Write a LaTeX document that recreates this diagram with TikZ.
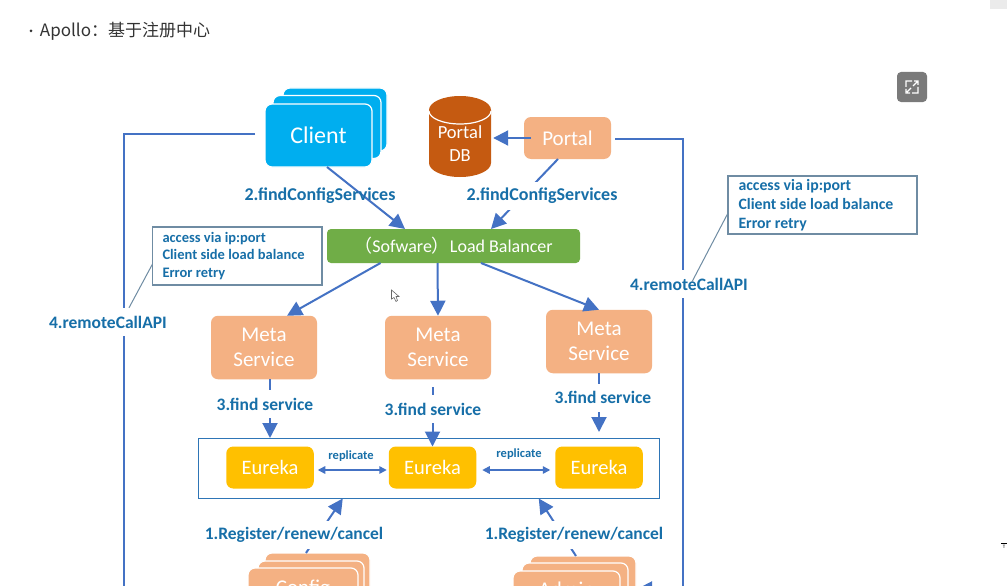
\documentclass[tikz,border=0pt]{standalone}
\usepackage{fontspec}
\setmainfont{Carlito}
\newfontfamily\cjk{Noto Sans CJK SC}
\usetikzlibrary{arrows.meta}
\definecolor{linkblue}{HTML}{4472C4}
\definecolor{labelblue}{HTML}{176FA8}
\definecolor{noteline}{HTML}{6F8CA3}
\definecolor{boxblue}{HTML}{2E75B6}
\definecolor{clientblue}{HTML}{00AEEF}
\definecolor{peach}{HTML}{F4B183}
\definecolor{lbgreen}{HTML}{70AD47}
\definecolor{eurekagold}{HTML}{FFC000}
\definecolor{dbbrown}{HTML}{C55A11}
\begin{document}
\begin{tikzpicture}[x=1pt, y=-1pt,
    box/.style={rounded corners=7pt, inner sep=0pt, outer sep=0pt, text=white,
        align=center, font=\fontsize{21}{25}\selectfont},
    metabox/.style={box, fill=peach, minimum width=106pt, minimum height=63.5pt},
    eurekabox/.style={box, fill=eurekagold, minimum width=87.5pt, minimum height=42pt,
        font=\fontsize{20.5}{25}\selectfont},
    stackbox/.style={box, draw=white, line width=1.2pt},
    flow/.style={draw=linkblue, line width=2pt, -{Triangle[width=15pt,length=15pt]}},
    small flow/.style={draw=linkblue, line width=1.5pt, {Triangle[width=7.5pt,length=7.5pt]}-{Triangle[width=7.5pt,length=7.5pt]}},
    link/.style={draw=linkblue, line width=2pt},
    steplabel/.style={text=labelblue, fill=white, inner sep=0pt, minimum height=28pt,
        font=\bfseries\fontsize{17.5}{19}\selectfont},
    replabel/.style={text=labelblue, inner sep=0pt, font=\bfseries\fontsize{12.5}{14}\selectfont},
    notebox/.style={draw=noteline, line width=1.5pt, fill=white, text=labelblue, align=flush left,
        inner ysep=0pt, outer sep=0pt, minimum height=58pt}
]
    \clip (0,0) rectangle (1007,586);
    \fill[white] (0,0) rectangle (1007,586);

    % heading
    \node[text=black!80, inner sep=0pt, font=\cjk\fontsize{17}{20}\selectfont] (heading) at (125,31) {Apollo：基于注册中心};
    \fill[black!80] (31,31) circle (1.5pt);

    % expand button
    \node[rounded corners=4pt, fill=black!52, minimum size=30pt, inner sep=0pt] (expand) at (912,87) {};
    \draw[white, line width=1.2pt] (906,87) -- (906,81) -- (912,81) (912,93) -- (918,93) -- (918,87)
        (907,92) -- (911,88) (917,82) -- (913,86) (914,81) -- (918,81) -- (918,85) (906,89) -- (906,93) -- (910,93);

    % client stack
    \node[stackbox, fill=clientblue, minimum width=104pt, minimum height=63pt] (clientc) at (335,119.5) {};
    \node[stackbox, fill=clientblue, minimum width=108pt, minimum height=63pt] (clientb) at (327,127) {};
    \node[stackbox, fill=clientblue, minimum width=107pt, minimum height=63pt,
        font=\fontsize{24}{26}\selectfont] (client) at (318.5,135.5) {Client};

    % portal
    \fill[dbbrown] (429,110) arc[start angle=180, end angle=0, x radius=31pt, y radius=14pt]
        -- (491,163) arc[start angle=0, end angle=-180, x radius=31pt, y radius=14pt] -- cycle;
    \draw[white, line width=1.2pt] (429,111) arc[start angle=180, end angle=360, x radius=31pt, y radius=13pt];
    \node[text=white, align=center, inner sep=0pt, minimum width=62pt, font=\fontsize{18.5}{23}\selectfont] (db) at (460,143.5) {Portal\\DB};
    \node[box, fill=peach, minimum width=87pt, minimum height=42pt] (portal) at (567.5,138) {Portal};

    % balancer
    \node[box, fill=lbgreen, rounded corners=4pt, minimum width=253pt, minimum height=34pt,
        font=\fontsize{18}{20}\selectfont] (lb) at (453.5,246) {{\cjk （}Sofware{\cjk ）}Load Balancer};

    % notes
    \node[notebox, minimum width=169.5pt, inner xsep=10pt, font=\bfseries\fontsize{14.5}{17.5}\selectfont, text width=149.5pt] (noteleft) at (237.25,256) {access via ip:port\\Client side load balance\\Error retry};
    \node[notebox, minimum width=189pt, inner xsep=10.5pt, font=\bfseries\fontsize{15.8}{19}\selectfont, text width=168pt] (noteright) at (822.5,205) {access via ip:port\\Client side load balance\\Error retry};

    % meta services
    \node[metabox] (meta1) at (264,347.5) {Meta\\Service};
    \node[metabox] (meta2) at (438,347.5) {Meta\\Service};
    \node[metabox] (meta3) at (599,341.5) {Meta\\Service};

    % eureka
    \node[draw=boxblue, line width=1pt, minimum width=460.5pt, minimum height=60.5pt, inner sep=0pt, outer sep=0pt] (cluster) at (428.75,468.25) {};
    \node[eurekabox] (eureka1) at (270,467.5) {Eureka};
    \node[eurekabox] (eureka2) at (432.5,467.5) {Eureka};
    \node[eurekabox] (eureka3) at (599,467.5) {Eureka};

    % config and admin stacks
    \node[stackbox, fill=peach, minimum width=105pt, minimum height=50pt] (configc) at (317.5,578) {};
    \node[stackbox, fill=peach, minimum width=106pt, minimum height=50pt] (configb) at (311,586) {};
    \node[stackbox, fill=peach, minimum width=110pt, minimum height=42pt] (config) at (303,589) {Config};
    \node[stackbox, fill=peach, minimum width=106pt, minimum height=50pt] (adminc) at (583,581) {};
    \node[stackbox, fill=peach, minimum width=106pt, minimum height=50pt] (adminb) at (575,588) {};
    \node[stackbox, fill=peach, minimum width=107pt, minimum height=36pt] (admin) at (566.5,589) {Admin};

    % connectors
    \coordinate (leftend) at (123.5,600);
    \coordinate (rightend) at (683,589);
    \draw[flow] ([xshift=8.5pt]client.south) -- ([xshift=-48.5pt]lb.north);
    \draw[flow] ([xshift=-9.5pt]portal.south) -- ([xshift=37.5pt]lb.north);
    \draw[flow] ([xshift=7pt]portal.west) -- ([xshift=2pt]db.east |- portal.west);
    \draw[flow] ([xshift=-73pt]lb.south) -- ([xshift=23pt]meta1.north);
    \draw[flow] ([xshift=-16pt]lb.south) -- (meta2.north);
    \draw[flow] ([xshift=27.5pt]lb.south) -- (meta3.north);
    \draw[flow] ([xshift=6pt]meta1.south) -- (eureka1.north |- cluster.north);
    \draw[flow] ([xshift=-5.5pt,yshift=-8pt]meta2.south) -- (eureka2.north);
    \draw[flow] (meta3.south) -- ([yshift=6pt]eureka3.north |- cluster.north);
    \draw[small flow] ([xshift=4pt,yshift=-2.5pt]eureka1.east) -- ([xshift=-2pt,yshift=-2.5pt]eureka2.west);
    \draw[small flow] ([xshift=6pt,yshift=-2.5pt]eureka2.east) -- ([xshift=-5pt,yshift=-2.5pt]eureka3.west);
    \draw[flow] ([xshift=3pt]configc.north -| config.north) -- ([xshift=-86pt]cluster.south);
    \draw[flow] ([xshift=1pt]adminc.north -| adminb.north) -- ([xshift=110pt]cluster.south);
    \draw[link] ([xshift=-10pt,yshift=1.5pt]client.west) -| (leftend);
    \draw[link] ([xshift=4pt,yshift=-1pt]portal.east) -| (rightend);
    \draw[flow] (rightend) -- ([xshift=1pt]adminc.east |- rightend);

    % labels
    \node[steplabel, fill=none, font=\bfseries\fontsize{18}{19}\selectfont] (find1) at (320,195.5) {2.findConfigServices};
    \node[steplabel, font=\bfseries\fontsize{18}{19}\selectfont] (find2) at (542,196) {2.findConfigServices};
    \node[steplabel] (svc1) at (265,404) {3.find service};
    \node[steplabel] (svc2) at (433,409) {3.find service};
    \node[steplabel] (svc3) at (603,397.5) {3.find service};
    \node[steplabel] (reg1) at (294,535) {1.Register/renew/cancel};
    \node[steplabel] (reg2) at (574,535) {1.Register/renew/cancel};
    \node[steplabel] (remote1) at (108,322) {4.remoteCallAPI};
    \node[steplabel] (remote2) at (689,284) {4.remoteCallAPI};
    \node[replabel] (rep1) at (351,456) {replicate};
    \node[replabel] (rep2) at (519,454) {replicate};
    \draw[noteline, line width=1pt] ([yshift=-8pt]noteleft.west) -- ([xshift=21pt]remote1.north);
    \draw[noteline, line width=1pt] ([yshift=-8pt]noteright.west) -- ([xshift=3pt,yshift=-12pt]remote2.north);

    % pointer and screen marks
    \draw[black!60, fill=white, line width=0.6pt] (391.5,290) -- (391.5,299) -- (394,297.5) -- (396,301.5) -- (397.5,300.5) -- (396,296.5) -- (399,296.5) -- cycle;
    \fill[black!8] (990,0) rectangle (1007,9);
    \node[inner sep=0pt, font=\fontsize{5}{6}\selectfont] (cornermark) at (1004,546.5) {T};
    \draw[black, line width=0.5pt] (1001,543) -- (1007,543);
\end{tikzpicture}
\end{document}
